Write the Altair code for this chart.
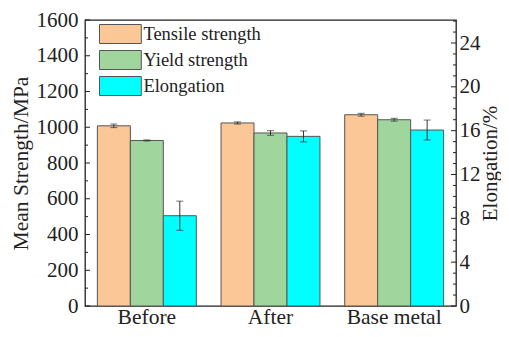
import altair as alt
import pandas as pd

FONT = "Liberation Serif"
TXT = "#222222"

groups = ["Before", "After", "Base metal"]
series = ["Tensile strength", "Yield strength", "Elongation"]
tensile = [1008, 1024, 1070]
tensile_err = [10, 6, 8]
yield_s = [926, 968, 1042]
yield_err = [3, 13, 8]
elong = [8.24, 15.48, 16.06]
elong_err = [1.33, 0.5, 0.91]
colors = ["#FBC797", "#A0D59E", "#00FFFF"]

left_major = list(range(0, 1601, 200))
left_minor = list(range(100, 1600, 200))
right_major = list(range(0, 25, 4))
right_minor = [v for v in range(1, 27) if v % 4 != 0]

W, H = 371, 286

rows = []
for g, t, te, y, ye in zip(groups, tensile, tensile_err, yield_s, yield_err):
    rows.append(dict(group=g, series=series[0], value=t, lo=t - te, hi=t + te))
    rows.append(dict(group=g, series=series[1], value=y, lo=y - ye, hi=y + ye))
strength = pd.DataFrame(rows)
elo = pd.DataFrame([dict(group=g, series=series[2], value=v, lo=v - e, hi=v + e)
                    for g, v, e in zip(groups, elong, elong_err)])

legend = alt.Legend(
    title=None, orient="none", legendX=14, legendY=4, padding=0,
    symbolType="M-2.2,-1L2.2,-1L2.2,1L-2.2,1Z", symbolSize=361,
    symbolOffset=11.4, labelOffset=13, rowPadding=2,
    labelFont=FONT, labelFontSize=18.5, labelColor=TXT,
    symbolStrokeColor="#555555", symbolStrokeWidth=1, symbolOpacity=1,
)

xenc = alt.X("group:N", sort=groups, scale=alt.Scale(paddingInner=0.2, paddingOuter=0.1),
             axis=alt.Axis(title=None, labelAngle=0, domain=False, ticks=False, tickSize=0,
                           labelPadding=0, labelFontSize=21.5, labelFont=FONT, labelColor=TXT))
xoff = alt.XOffset("series:N", sort=series, scale=alt.Scale(domain=series, paddingInner=0, paddingOuter=0))
color = alt.Color("series:N", scale=alt.Scale(domain=series, range=colors), legend=legend)

lscale = alt.Scale(domain=[0, 1600], nice=False)
rscale = alt.Scale(domain=[0, 26.1], nice=False)

laxis = alt.Axis(
    values=left_major, format="d", domain=False, ticks=False, tickSize=0, grid=False, labelPadding=7,
    labelFontSize=21, labelFont=FONT, labelColor=TXT,
    title="Mean Strength/MPa", titleFontSize=21.5, titleFont=FONT, titleColor=TXT,
    titleFontWeight="normal", titleX=-64, titleY=H / 2, titleAngle=270,
    titleBaseline="middle", titleAlign="center")
raxis = alt.Axis(
    orient="right", values=right_major, format="d", domain=False, ticks=False, tickSize=0, grid=False,
    labelPadding=3, labelFontSize=21, labelFont=FONT, labelColor=TXT,
    title="Elongation/%", titleFontSize=21, titleFont=FONT, titleColor=TXT,
    titleFontWeight="normal", titleX=34, titleY=H / 2, titleAngle=270,
    titleBaseline="middle", titleAlign="center")

ERR = "#333333"

# ---- left (strength) ----
sbars = alt.Chart(strength).mark_bar(stroke="#555555", strokeWidth=1).encode(
    x=xenc, xOffset=xoff, color=color,
    y=alt.Y("value:Q", scale=lscale, axis=laxis))
serr = alt.Chart(strength).mark_rule(color=ERR, strokeWidth=1).encode(
    x=xenc, xOffset=xoff, y=alt.Y("lo:Q", scale=lscale, axis=laxis), y2="hi:Q")
scap_lo = alt.Chart(strength).mark_tick(color=ERR, size=7, thickness=1).encode(
    x=xenc, xOffset=xoff, y=alt.Y("lo:Q", scale=lscale, axis=laxis))
scap_hi = alt.Chart(strength).mark_tick(color=ERR, size=7, thickness=1).encode(
    x=xenc, xOffset=xoff, y=alt.Y("hi:Q", scale=lscale, axis=laxis))
lmaj = alt.Chart(pd.DataFrame({"v": left_major})).mark_rule(color=TXT, strokeWidth=1).encode(
    y=alt.Y("v:Q", scale=lscale, axis=laxis), x=alt.value(0), x2=alt.value(5))
lmin = alt.Chart(pd.DataFrame({"v": left_minor})).mark_rule(color=TXT, strokeWidth=1).encode(
    y=alt.Y("v:Q", scale=lscale, axis=laxis), x=alt.value(0), x2=alt.value(3))
left = alt.layer(sbars, serr, scap_lo, scap_hi, lmaj, lmin)

# ---- right (elongation) ----
ebars = alt.Chart(elo).mark_bar(stroke="#555555", strokeWidth=1).encode(
    x=xenc, xOffset=xoff, color=color,
    y=alt.Y("value:Q", scale=rscale, axis=raxis))
eerr = alt.Chart(elo).mark_rule(color=ERR, strokeWidth=1).encode(
    x=xenc, xOffset=xoff, y=alt.Y("lo:Q", scale=rscale, axis=raxis), y2="hi:Q")
ecap_lo = alt.Chart(elo).mark_tick(color=ERR, size=7, thickness=1).encode(
    x=xenc, xOffset=xoff, y=alt.Y("lo:Q", scale=rscale, axis=raxis))
ecap_hi = alt.Chart(elo).mark_tick(color=ERR, size=7, thickness=1).encode(
    x=xenc, xOffset=xoff, y=alt.Y("hi:Q", scale=rscale, axis=raxis))
rmaj = alt.Chart(pd.DataFrame({"v": right_major})).mark_rule(color=TXT, strokeWidth=1).encode(
    y=alt.Y("v:Q", scale=rscale, axis=raxis), x=alt.value(W), x2=alt.value(W - 5))
rmin = alt.Chart(pd.DataFrame({"v": right_minor})).mark_rule(color=TXT, strokeWidth=1).encode(
    y=alt.Y("v:Q", scale=rscale, axis=raxis), x=alt.value(W), x2=alt.value(W - 3))
right = alt.layer(ebars, eerr, ecap_lo, ecap_hi, rmaj, rmin)

chart = alt.layer(left, right).resolve_scale(y="independent").properties(
    width=W, height=H,
    padding={"left": 77, "top": 12, "right": 45, "bottom": 23},
    autosize=alt.AutoSizeParams(type="none"),
    background="white",
).configure_view(stroke="#222222", strokeWidth=1.3)

chart.save("out.html", embed_options={"renderer": "svg", "actions": False})
